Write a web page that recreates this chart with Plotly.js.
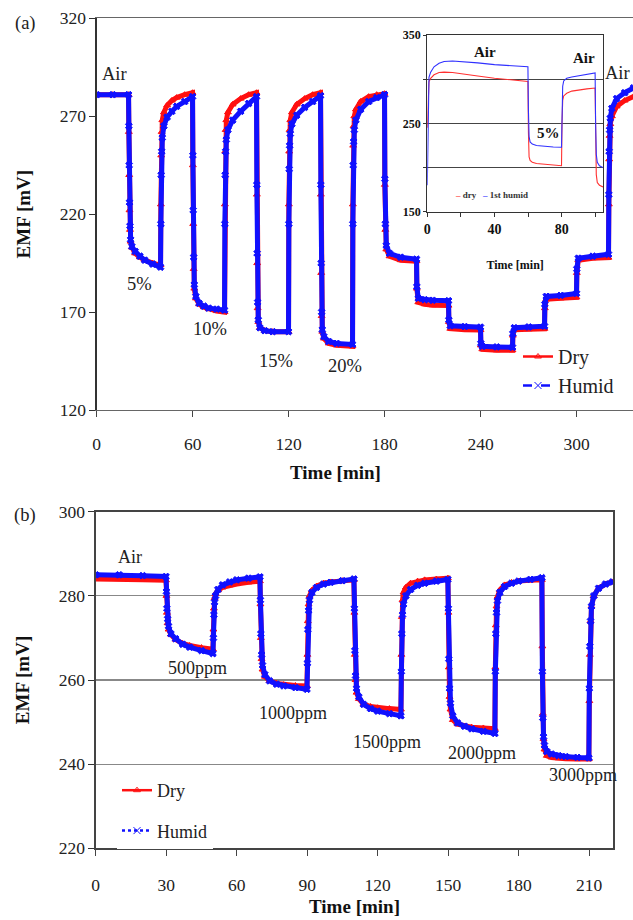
<!DOCTYPE html>
<html><head><meta charset="utf-8">
<script src="https://cdn.plot.ly/plotly-3.0.1.min.js"></script>
<style>html,body{margin:0;padding:0;background:#fff}#chart{width:633px;height:920px}</style>
</head><body><div id="chart"></div>
<script>
// ---------- Panel (a): CO2 steps (%), time in min ----------
const timeA = [0,10,19.9,
 20.1,20.3,20.5,20.8,21.2,22,24,27,30,35,39.9,
 40.1,40.3,40.6,41,42,44,47,50,55,59.9,
 60.1,60.3,60.6,61,62,64,67,70,75,79.9,
 80.1,80.3,80.6,81,82,85,90,95,99.9,
 100.1,100.3,100.6,101,102,105,110,119.9,
 120.1,120.3,120.6,121,122,125,130,135,139.9,
 140.1,140.3,140.6,141,142,145,150,159.9,
 160.1,160.3,160.6,161,162,165,170,175,179.9,
 180.1,180.4,181,183,190,199.9,
 200.1,201,205,210,219.9,
 220.1,221,230,239.9,
 240.1,241,250,259.9,
 260.1,261,270,279.9,
 280.1,281,290,299.9,
 300.1,301,310,319.9,
 320.1,320.3,320.6,321,322,325,330,335.5];
const dryA = [281,281,281,
 262,240,222,212,206,203,200,198,196.5,195,194,
 225,250,262,268,272,275.5,278,279.5,281,282,
 245,215,192,182,177,174,172.5,171.5,170.5,170,
 225,252,263,268,272,276,279,281,282,
 230,195,172,165,162,160.5,160,160,
 225,252,263,268,272,276,279,281,282,
 230,190,168,160,156.5,154,153,152.5,
 225,255,265,270,273.5,277.5,280,281,281.5,
 235,212,202,198.5,196.5,196,
 182,175,174,173.5,173.3,
 165,161.5,161,160.8,
 153,151,150.5,150.5,
 158,161,161.2,161.5,
 172,176.5,177,177.5,
 190,196.5,197.5,197.8,
 225,248,260,266,270,275,278,280];
const humidA = [281,281,281,
 265,245,226,214,207,203.5,201,198.5,196.5,194.5,193,
 215,240,252,259,265,269.5,272.5,275,277.5,280,
 250,222,198,184,178,174.5,173,172,171.5,171,
 215,240,252,258,263,268,272.5,276.5,280,
 235,200,175,166,162,160.5,160,160,
 215,243,255,261,266,270.5,274.5,277.5,280.5,
 235,195,170,161,157.5,155,154,153.5,
 215,245,257,263,268,273.5,277.5,279.5,281,
 238,215,204,200,198,197,
 183,177,176.3,176,175.8,
 166,163,162.6,162.3,
 154,152.5,152.2,152,
 159,162,162.4,162.8,
 174,178,178.5,179.5,
 192,197.5,198.5,199.5,
 230,252,263,269,274,279,282,284.5];
const labelsA = ['Air','5%','10%','15%','20%','Air'];
const labelTimeA = [11.1,27,71.1,112,154.9,325.5];
const labelEmfA = [291.5,184.4,161.4,145.2,142.7,291.9];
const ticksA_x = [0,60,120,180,240,300];
const ticksA_y = [120,170,220,270,320];

// ---------- Inset of (a) ----------
const timeIn = [0,0.5,1,2,4,7,10,15,20,30,40,50,59.9,
 60.2,60.6,61.2,62.5,65,70,75,79.9,
 80.2,80.6,81.2,83,86,90,95,99.9,
 100.2,100.6,101.2,102.5,104.6];
const dryIn = [245,285,297,301,305,307.5,308,307.5,306,303.5,301,299,297.5,
 240,212,208,206,204.5,203.5,202.5,202,
 250,276,281,284,286.5,288,289,290,
 225,192,183,180,178];
const humidIn = [180,290,302,308,314,318,320,320.5,320,318.5,316.5,315,314,
 265,235,229,226.5,225,224,223.3,223,
 270,292,298,301,302.5,304,305.5,307,
 250,215,206,202,200];
const labelsIn = ['Air','Air','5%'];
const labelTimeIn = [34.5,93,72];
const labelEmfIn = [331,323.6,238.7];
const ticksIn_x = [0,20,40,60,80,100];
const tickTextIn_x = ['0','','40','','80',''];
const ticksIn_y = [150,200,250,300,350];
const tickTextIn_y = ['150','','250','','350'];

// ---------- Panel (b): ppm steps ----------
const timeB = [0,10,20,29.9,
 30.1,30.3,30.6,31,32,34,37,40,45,49.9,
 50.1,50.3,50.6,51,52,54,57,60,65,69.9,
 70.1,70.3,70.6,71,72,74,77,80,85,89.9,
 90.1,90.3,90.6,91,92,94,97,100,105,109.9,
 110.1,110.3,110.6,111,112,114,117,120,125,129.9,
 130.1,130.3,130.6,131,132,134,137,140,145,149.9,
 150.1,150.3,150.6,151,152,154,157,160,165,169.9,
 170.1,170.3,170.6,171,172,174,177,180,185,189.9,
 190.1,190.3,190.6,191,192,194,197,200,205,209.9,
 210.1,210.3,210.6,211,212,214,217,220];
const dryB = [284,284,283.8,283.7,
 280,276,273.5,272,270.8,269.6,268.7,268.2,267.7,267.3,
 272,277,279.5,280.5,281.3,282,282.5,282.8,283.2,283.5,
 278,270,265,262.5,260.8,259.8,259.2,258.9,258.7,258.6,
 266,274,278,280,281.3,282.3,283,283.3,283.6,283.8,
 276,266,260,257,255.5,254.3,253.7,253.4,253.2,253,
 266,275,279,280.8,282,283,283.5,283.8,284,284.2,
 276,263,256,253,250.5,249.5,249,248.8,248.6,248.4,
 263,273,277.5,279.8,281.4,282.6,283.2,283.5,283.7,283.8,
 268,252,246,243.5,242,241.6,241.4,241.3,241.2,241.2,
 255,266,274,277.5,280,281.8,282.8,283.3];
const humidB = [285,285,284.8,284.6,
 281,277,274.5,272.8,271,269.8,268.5,267.8,267,266.3,
 270,275.5,278.5,280,281.5,282.6,283.3,283.8,284.2,284.5,
 279,271,266,263.5,261.3,259.8,259,258.6,258.2,257.8,
 264,272,276.5,279,280.8,282,282.8,283.2,283.6,284,
 277,267,261,258,256,254.2,253.2,252.6,252,251.5,
 262,271,275.5,278,280,281.5,282.5,283,283.5,283.9,
 277,265,258,254.5,251.5,249.8,249,248.4,247.8,247.3,
 262,271,276,278.8,280.8,282.2,283,283.5,283.9,284.3,
 262,251,246.5,244.5,243,242.4,242,241.8,241.6,241.5,
 258,268,274,277.5,280,281.8,282.8,283.3];
const labelsB = ['Air','500ppm','1000ppm','1500ppm','2000ppm','3000ppm'];
const labelTimeB = [14.4,43.3,84,124,164.4,207.4];
const labelEmfB = [289.3,262.9,252.1,245.3,242.6,237.4];
const ticksB_x = [0,30,60,90,120,150,180,210];
const ticksB_y = [220,240,260,280,300];

const seriesNames = ['Dry','Humid'];
const insetNames = ['dry','1st humid'];

// ---------- styling ----------
const FONT = 'Liberation Serif, "Times New Roman", serif';
const RED = '#ff1010', BLUE = '#1010ff';

function dataTrace(x, y, color, sym, xa, ya) {
  return {x, y, xaxis: xa, yaxis: ya, type: 'scatter', mode: 'lines+markers',
    line: {color, width: 5}, marker: {symbol: sym, size: 6, color, line: {color, width: 1}},
    showlegend: false, hoverinfo: 'skip'};
}
function legendTrace(name, color, sym, dash, xa, ya, leg, grp, size) {
  return {x: [null], y: [null], xaxis: xa, yaxis: ya, type: 'scatter', mode: 'lines+markers',
    name, legend: leg, legendgroup: grp,
    line: {color, width: 2.5, dash}, marker: {symbol: sym, size: size, color, line: {color, width: 1}}};
}

const traces = [
  dataTrace(timeA, dryA, RED, 'triangle-up', 'x', 'y'),
  dataTrace(timeA, humidA, BLUE, 'x', 'x', 'y'),
  legendTrace(seriesNames[0], RED, 'triangle-up-open', 'solid', 'x', 'y', 'legend', 'a1', 6),
  legendTrace(seriesNames[1], BLUE, 'x-thin-open', 'dash', 'x', 'y', 'legend', 'a2', 7),
  {x: timeIn, y: dryIn, xaxis: 'x3', yaxis: 'y3', type: 'scatter', mode: 'lines',
   line: {color: '#ff3030', width: 1.1}, name: insetNames[0], showlegend: false},
  {x: timeIn, y: humidIn, xaxis: 'x3', yaxis: 'y3', type: 'scatter', mode: 'lines',
   line: {color: '#3030ff', width: 1.1}, name: insetNames[1], showlegend: false},
  dataTrace(timeB, dryB, RED, 'triangle-up', 'x2', 'y2'),
  dataTrace(timeB, humidB, BLUE, 'x', 'x2', 'y2'),
  legendTrace(seriesNames[0], RED, 'triangle-up-open', 'solid', 'x2', 'y2', 'legend2', 'b1', 6),
  legendTrace(seriesNames[1], BLUE, 'x-thin-open', 'dot', 'x2', 'y2', 'legend2', 'b2', 7)
];

const tickFont = {family: FONT, size: 17.5, color: '#222'};
const titleFont = {family: FONT, size: 19, color: '#111', weight: 'bold'};

const annotations = [];
labelsA.forEach((t, i) => annotations.push({x: labelTimeA[i], y: labelEmfA[i], xref: 'x', yref: 'y',
  xanchor: 'center', yanchor: 'middle',
  text: t, showarrow: false, font: {family: FONT, size: 18.5, color: '#222'}}));
labelsIn.forEach((t, i) => annotations.push({x: labelTimeIn[i], y: labelEmfIn[i], xref: 'x3', yref: 'y3',
  xanchor: 'center', yanchor: 'middle',
  text: t, showarrow: false, font: {family: FONT, size: 15, color: '#111', weight: 'bold'}}));
labelsB.forEach((t, i) => annotations.push({x: labelTimeB[i], y: labelEmfB[i], xref: 'x2', yref: 'y2',
  xanchor: 'center', yanchor: 'middle',
  text: t, showarrow: false, font: {family: FONT, size: 18, color: '#222'}}));
annotations.push({x: 25/633, y: 1 - 23/920, xref: 'paper', yref: 'paper', xanchor: 'center', yanchor: 'middle',
  text: '(a)', showarrow: false, font: {family: FONT, size: 18.5, color: '#222'}});
annotations.push({x: 25/633, y: 1 - 515/920, xref: 'paper', yref: 'paper', xanchor: 'center', yanchor: 'middle',
  text: '(b)', showarrow: false, font: {family: FONT, size: 18.5, color: '#222'}});
annotations.push({x: 335/633, y: 1 - 472/920, xref: 'paper', yref: 'paper', xanchor: 'center', yanchor: 'middle',
  text: 'Time [min]', showarrow: false, font: titleFont});
annotations.push({x: 453/633, y: 1 - 195/920, xref: 'paper', yref: 'paper', xanchor: 'left', yanchor: 'middle',
  text: '<span style="color:#ff4040">–</span> ' + insetNames[0] + '   <span style="color:#4040ff">–</span> ' + insetNames[1],
  showarrow: false, font: {family: FONT, size: 9, color: '#333', weight: 'bold'}});

const layout = {
  width: 633, height: 920,
  margin: {l: 0, r: 0, t: 0, b: 0},
  paper_bgcolor: '#fff', plot_bgcolor: '#fff',
  font: {family: FONT, color: '#222'},
  showlegend: true,
  xaxis: {domain: [96.7/633, 1], anchor: 'y', range: [0, 335.2], tickvals: ticksA_x,
    showline: true, linecolor: '#666', linewidth: 1.2, mirror: true, ticks: 'outside', ticklen: 6,
    tickcolor: '#444', showgrid: false, zeroline: false, tickfont: tickFont, ticklabelstandoff: 12},
  yaxis: {domain: [1 - 410/920, 1 - 18.3/920], anchor: 'x', range: [120, 320], tickvals: ticksA_y,
    showline: true, linecolor: '#333', linewidth: 1.3, ticks: 'outside', ticklen: 6, tickcolor: '#333',
    showgrid: false, zeroline: false, tickfont: tickFont,
    title: {text: 'EMF [mV]', font: titleFont, standoff: 24}},
  xaxis2: {domain: [95.7/633, 613.3/633], anchor: 'y2', range: [0, 220.3], tickvals: ticksB_x,
    showline: true, linecolor: '#444', linewidth: 1.3, mirror: true, ticks: 'outside', ticklen: 6,
    tickcolor: '#444', showgrid: false, zeroline: false, tickfont: tickFont, ticklabelstandoff: 14,
    title: {text: 'Time [min]', font: titleFont, standoff: 6}},
  yaxis2: {domain: [1 - 848.3/920, 1 - 511.7/920], anchor: 'x2', range: [220, 300], tickvals: ticksB_y,
    showline: true, linecolor: '#444', linewidth: 1.3, mirror: true, ticks: 'outside', ticklen: 6,
    tickcolor: '#333', showgrid: true, gridcolor: '#888', gridwidth: 1.2, zeroline: false, tickfont: tickFont,
    title: {text: 'EMF [mV]', font: titleFont, standoff: 24}},
  xaxis3: {domain: [427.3/633, 603/633], anchor: 'y3', range: [0, 104.6], tickvals: ticksIn_x, ticktext: tickTextIn_x,
    showline: true, linecolor: '#333', linewidth: 1.2, mirror: true, ticks: 'outside', ticklen: 4, tickcolor: '#333',
    showgrid: false, zeroline: false, tickfont: {family: FONT, size: 14, color: '#111', weight: 'bold'},
    title: {text: 'Time [min]', font: {family: FONT, size: 12, color: '#111', weight: 'bold'}, standoff: 24}},
  yaxis3: {domain: [1 - 211.7/920, 1 - 35/920], anchor: 'x3', range: [150, 350], tickvals: ticksIn_y, ticktext: tickTextIn_y,
    showline: true, linecolor: '#333', linewidth: 1.2, mirror: true, ticks: 'outside', ticklen: 3, tickcolor: '#333',
    showgrid: true, gridcolor: '#444', gridwidth: 1, zeroline: false,
    tickfont: {family: FONT, size: 12, color: '#111', weight: 'bold'}},
  legend: {x: 518/633, y: 1 - 337/920, xanchor: 'left', yanchor: 'top', bgcolor: 'rgba(255,255,255,0)',
    font: {family: FONT, size: 20, color: '#222'}, tracegroupgap: 0, itemwidth: 30},
  legend2: {x: 117/633, y: 1 - 772/920, xanchor: 'left', yanchor: 'top', bgcolor: '#fff',
    font: {family: FONT, size: 18, color: '#222'}, tracegroupgap: 14, itemwidth: 30},
  annotations
};

Plotly.newPlot('chart', traces, layout, {staticPlot: true, displayModeBar: false});
</script></body></html>
